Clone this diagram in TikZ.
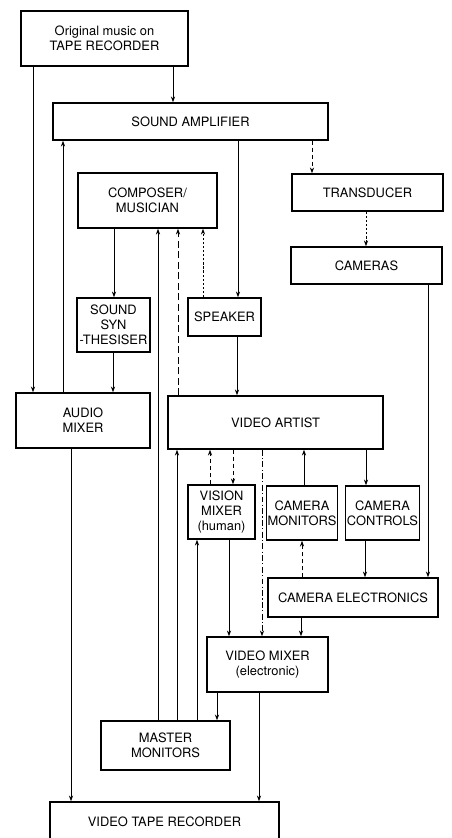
\documentclass[tikz,border=0pt]{standalone}
\usepackage{fontspec}
\setsansfont{TeX Gyre Heros}
\usetikzlibrary{arrows.meta}

\begin{document}
\begin{tikzpicture}[x=0.03cm,y=-0.03cm,>={Stealth[length=5pt,width=3.5pt]},
    box/.style={rectangle,draw,line width=1.1pt,inner sep=1pt,align=center,font=\sffamily\fontsize{11}{13}\selectfont},
    link/.style={->,line width=0.7pt},
    longdash/.style={dash pattern=on 6pt off 3pt},
    finedash/.style={dash pattern=on 2pt off 1.5pt},
    middash/.style={dash pattern=on 4pt off 2pt},
    dashdot/.style={dash pattern=on 5pt off 2pt on 1pt off 2pt}]

            \useasboundingbox (0,0) rectangle (452,838);

            \node[box, minimum width=5.01cm, minimum height=1.65cm] (tape) at (104.5,38.5) {Original music on\\TAPE RECORDER};
            \node[box, minimum width=8.25cm, minimum height=1.11cm] (amp) at (190.5,121.5) {SOUND AMPLIFIER};

            \node[box, minimum width=4.17cm, minimum height=1.65cm] (comp) at (147.5,200.5) {COMPOSER/\\MUSICIAN};
            \node[box, minimum width=4.53cm, minimum height=1.11cm] (trans) at (367.5,192.5) {TRANSDUCER};
            \node[box, minimum width=4.53cm, minimum height=1.11cm] (cams) at (366.5,265.5) {CAMERAS};

            \node[box, minimum width=2.19cm, minimum height=1.62cm] (synth) at (113.5,325) {SOUND\\SYN\\-THESISER};
            \node[box, minimum width=2.19cm, minimum height=1.14cm] (speaker) at (224.5,317) {SPEAKER};

            \node[box, minimum width=4.02cm, minimum height=1.65cm] (audio) at (83,420.5) {AUDIO\\MIXER};
            \node[box, minimum width=6.45cm, minimum height=1.59cm] (artist) at (275.5,422.5) {VIDEO ARTIST};

            \node[box, minimum width=2.01cm, minimum height=1.62cm] (vision) at (221.5,512) {VISION\\MIXER\\(human)};
            \node[box, minimum width=1.98cm, minimum height=1.62cm] (cmon) at (302,513) {CAMERA\\MONITORS};
            \node[box, minimum width=2.07cm, minimum height=1.62cm] (cctl) at (382.5,513) {CAMERA\\CONTROLS};

            \node[box, minimum width=5.1cm, minimum height=1.17cm] (celec) at (353,597.5) {CAMERA ELECTRONICS};
            \node[box, minimum width=3.63cm, minimum height=1.65cm] (vmix) at (267.5,664.5) {VIDEO MIXER\\(electronic)};
            \node[box, minimum width=3.87cm, minimum height=1.47cm] (master) at (165.5,745.5) {MASTER\\MONITORS};
            \node[box, minimum width=6.87cm, minimum height=1.2cm] (vtr) at (164.5,822) {VIDEO TAPE RECORDER};

            % sound side
            \draw[link] (33,0 |- tape.south) -- (33,0 |- audio.north);
            \draw[link] (173,0 |- tape.south) -- (173,0 |- amp.north);
            \draw[link] (63,0 |- audio.north) -- (63,0 |- amp.south);
            \draw[link] (238,0 |- amp.south) -- (238,0 |- speaker.north);
            \draw[link] (114,0 |- comp.south) -- (114,0 |- synth.north);
            \draw[link] (113,0 |- synth.south) -- (113,0 |- audio.north);
            \draw[link] (71,0 |- audio.south) -- (71,0 |- vtr.north);

            % camera side
            \draw[link, middash] (312,0 |- amp.south) -- (312,0 |- trans.north);
            \draw[link, finedash] (366,0 |- trans.south) -- (366,0 |- cams.north);
            \draw[link] (428,0 |- cams.south) -- (428,0 |- celec.north);

            % back to the composer
            \draw[link] (158,0 |- master.north) -- (158,0 |- comp.south);
            \draw[link, longdash] (178,0 |- artist.north) -- (178,0 |- comp.south);
            \draw[link, finedash] (203,0 |- speaker.north) -- (203,0 |- comp.south);
            \draw[link] (237,0 |- speaker.south) -- (237,0 |- artist.north);

            % video artist
            \draw[link] (177,0 |- master.north) -- (177,0 |- artist.south);
            \draw[link, middash] (210,0 |- vision.north) -- (210,0 |- artist.south);
            \draw[link, middash] (233,0 |- artist.south) -- (233,0 |- vision.north);
            \draw[link, dashdot] (262,0 |- artist.south) -- (262,0 |- vmix.north);
            \draw[link] (304,0 |- cmon.north) -- (304,0 |- artist.south);
            \draw[link] (366,0 |- artist.south) -- (366,0 |- cctl.north);

            % mixers and monitors
            \draw[link] (197,0 |- master.north) -- (197,0 |- vision.south);
            \draw[link, middash] (302,0 |- celec.north) -- (302,0 |- cmon.south);
            \draw[link] (365,0 |- cctl.south) -- (365,0 |- celec.north);
            \draw[link] (301,0 |- celec.south) -- (301,0 |- vmix.north);
            \draw[link] (229,0 |- vision.south) -- (229,0 |- vmix.north);
            \draw[link] (217,0 |- vmix.south) -- (217,0 |- master.north);
            \draw[link] (259,0 |- vmix.south) -- (259,0 |- vtr.north);
\end{tikzpicture}
\end{document}
